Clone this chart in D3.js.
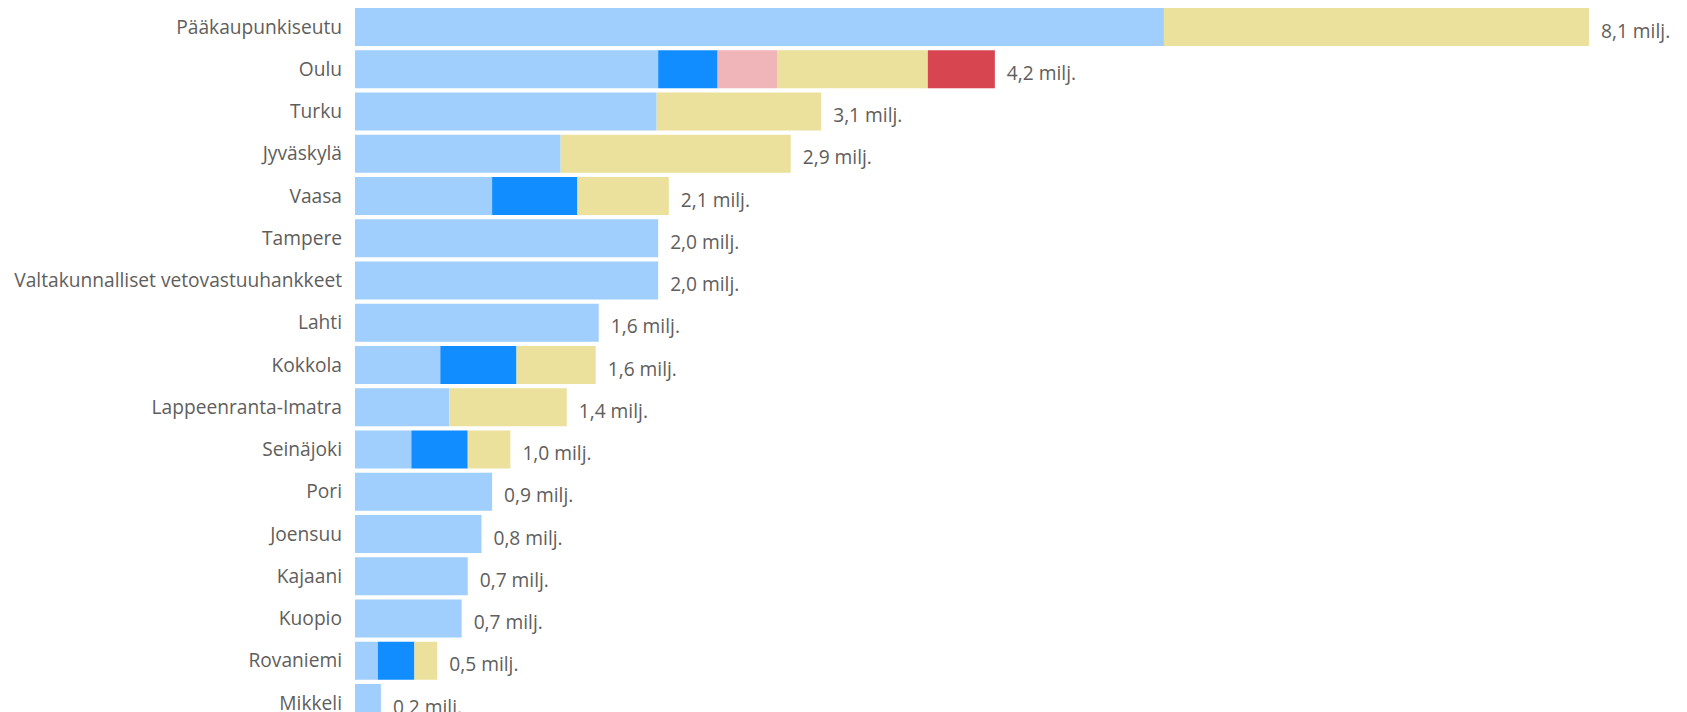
<!DOCTYPE html>
<html>
<head>
<meta charset="utf-8">
<script src="https://cdn.jsdelivr.net/npm/d3@7"></script>
<style>
  html, body { margin: 0; padding: 0; background: #fff; overflow: hidden; }
  svg { display: block; font-family: "Open Sans", "Noto Sans", sans-serif; }
</style>
</head>
<body>
<div id="chart"></div>
<script>
(function(){
  'use strict'

  // categories, top to bottom
  var regions = [
    "Pääkaupunkiseutu", "Oulu", "Turku", "Jyväskylä", "Vaasa", "Tampere",
    "Valtakunnalliset vetovastuuhankkeet", "Lahti", "Kokkola", "Lappeenranta-Imatra",
    "Seinäjoki", "Pori", "Joensuu", "Kajaani", "Kuopio", "Rovaniemi", "Mikkeli"
  ];

  // stacked series (milj. €), same order as regions
  var seriesLight  = [5.31, 1.99, 1.98, 1.35, 0.90, 1.99, 1.99, 1.60, 0.56, 0.62, 0.37, 0.90, 0.83, 0.74, 0.70, 0.15, 0.17];
  var seriesBlue   = [0,    0.39, 0,    0,    0.56, 0,    0,    0,    0.50, 0,    0.37, 0,    0,    0,    0,    0.24, 0];
  var seriesPink   = [0,    0.39, 0,    0,    0,    0,    0,    0,    0,    0,    0,    0,    0,    0,    0,    0,    0];
  var seriesYellow = [2.79, 0.99, 1.08, 1.51, 0.60, 0,    0,    0,    0.52, 0.77, 0.28, 0,    0,    0,    0,    0.15, 0];
  var seriesRed    = [0,    0.44, 0,    0,    0,    0,    0,    0,    0,    0,    0,    0,    0,    0,    0,    0,    0];

  var seriesKeys   = ["light", "blue", "pink", "yellow", "red"];
  var seriesColors = ["#a0cffe", "#118dff", "#f0b5b8", "#ece19c", "#d64550"];
  var valueSuffix  = " milj.";

  var width  = 1687,
      height = 712;

  var rows = regions.map(function(name, i){
    return {
      name   : name,
      light  : seriesLight[i],
      blue   : seriesBlue[i],
      pink   : seriesPink[i],
      yellow : seriesYellow[i],
      red    : seriesRed[i]
    };
  });
  rows.forEach(function(r){
    r.total = seriesKeys.reduce(function(s, k){ return s + r[k]; }, 0);
  });

  var stack = d3.stack().keys(seriesKeys)(rows);

  var x = d3.scaleLinear()
            .domain([0, d3.max(rows, d => d.total)])
            .range([355, 1589]);

  var y = d3.scaleBand()
            .domain(regions)
            .range([8, 722])
            .paddingInner(0.1)
            .paddingOuter(0);

  var svg = d3.select("#chart")
              .append("svg")
              .attr("width", width)
              .attr("height", height);

  var colorScale = d3.scaleOrdinal()
                     .domain(seriesKeys)
                     .range(seriesColors);

  svg.append("g")
    .selectAll("g")
    .data(stack)
    .enter()
    .append("g")
    .attr("fill", d => colorScale(d.key))
    .selectAll("rect")
    .data(d => d)
    .enter()
    .filter(d => d[1] - d[0] > 0)
    .append("rect")
    .attr("x", d => x(d[0]))
    .attr("y", d => y(d.data.name))
    .attr("width", d => x(d[1]) - x(d[0]))
    .attr("height", y.bandwidth());

  // category labels
  var catLabels = svg.append("g")
    .selectAll("text")
    .data(rows)
    .enter()
    .append("text")
    .attr("x", 342)
    .attr("y", d => y(d.name) + y.bandwidth() / 2)
    .attr("dy", "0.35em")
    .attr("text-anchor", "end")
    .attr("fill", "#605e5c")
    .style("font-size", "20px")
    .text(d => d.name);

  // fit font size so the longest label is ~328px wide
  var maxW = 0;
  catLabels.each(function(){ maxW = Math.max(maxW, this.getComputedTextLength()); });
  var fontSize = 20 * 328 / maxW;
  catLabels.style("font-size", fontSize + "px");

  // total labels
  svg.append("g")
    .selectAll("text")
    .data(rows)
    .enter()
    .append("text")
    .attr("x", d => x(d.total) + 12)
    .attr("y", d => y(d.name) + y.bandwidth() / 2 + 4)
    .attr("dy", "0.35em")
    .attr("fill", "#605e5c")
    .style("font-size", fontSize + "px")
    .text(d => d.total.toFixed(1).replace(".", ",") + valueSuffix);
})();
</script>
</body>
</html>
